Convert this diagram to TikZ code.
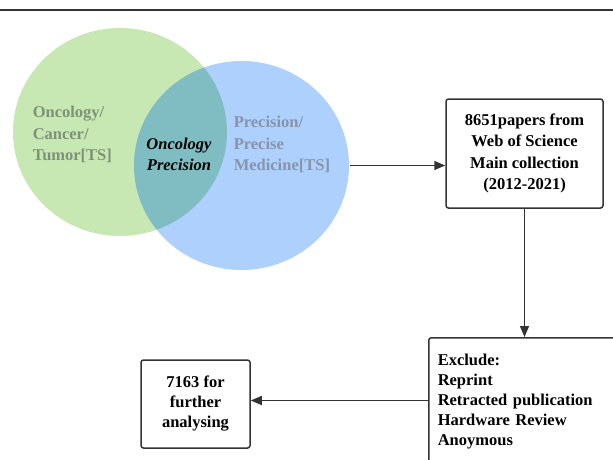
\documentclass[tikz,border=0pt]{standalone}
\usepackage{fontspec}
\setmainfont{Liberation Serif}
\usetikzlibrary{arrows.meta,shapes.geometric}
\definecolor{oncogreen}{HTML}{C7E8B2}
\definecolor{precblue}{HTML}{AED0FC}
\definecolor{overlapteal}{HTML}{80BDC3}
\definecolor{oncotext}{HTML}{80917A}
\definecolor{prectext}{HTML}{8794AC}
\definecolor{boxgray}{HTML}{333333}
\newcommand{\vennfont}{\fontsize{16.5}{21.5}\selectfont\bfseries}
\newcommand{\boxfont}{\fontsize{16.5}{20}\selectfont\bfseries}
\begin{document}
\begin{tikzpicture}[x=1pt,y=-1pt,line width=1.5pt,font=\vennfont,
	box/.style={draw=boxgray,rounded corners=2.5pt,align=center,inner sep=0pt},
	arr/.style={draw=boxgray,-{Triangle[length=11pt,width=9pt]}}]
	\useasboundingbox (0,0) rectangle (613,460);
	%top rule
	\draw[line width=2pt,black!80] (0,10.5) -- (613,10.5);
	
	%venn
		%circles
		\node[ellipse,fill=oncogreen,minimum width=214pt,minimum height=208pt,inner sep=0pt] (onco) at (120,132) {}; %oncology circle
		\node[ellipse,fill=precblue,minimum width=215pt,minimum height=209pt,inner sep=0pt] (prec) at (241.5,165.5) {}; %precision circle
		\begin{scope}
			\clip (120,132) ellipse [x radius=107,y radius=104];
			\fill[overlapteal] (241.5,165.5) ellipse [x radius=107.5,y radius=104.5]; %overlap
		\end{scope}
		%labels
		\node[text=oncotext,align=left,anchor=north west,inner sep=0pt] (oncolabel) at (32,105.5) {Oncology/\\Cancer/\\Tumor[TS]}; %oncology label
		\node[text=prectext,align=left,anchor=north west,inner sep=0pt] (preclabel) at (233,115.5) {Precision/\\Precise\\Medicine[TS]}; %precision label
		\node[font=\vennfont\itshape,align=center,inner sep=0pt] (bothlabel) at (179,154.5) {Oncology\\Precision}; %overlap label
	
	%boxes
	\node[box,minimum width=157pt,minimum height=109pt] (papers) at (524.5,153.5) {8651papers from\\Web of Science\\Main collection\\(2012-2021)}; %search result
	\node[box,font=\boxfont,align=left,anchor=north west,text width=190pt,inner xsep=9pt,inner ysep=16.7pt] (exclude) at (428,337) {Exclude:\\Reprint\\Retracted publication\\Hardware Review\\Anoymous\\\mbox{}}; %exclusion
	\node[box,font=\boxfont,minimum width=109pt,minimum height=88pt] (further) at (195.5,404) {7163 for\\further\\analysing}; %final set
	\coordinate (further in) at ([yshift=3.5pt]further.east); %arrow end
	
	%arrows
	\draw[arr] (prec.east) -- (prec.east -| papers.west); %venn to papers
	\draw[arr] (papers.south) -- (papers.south |- exclude.north); %papers to exclude
	\draw[arr] (exclude.west |- further in) -- (further in); %exclude to further
\end{tikzpicture}
\end{document}
